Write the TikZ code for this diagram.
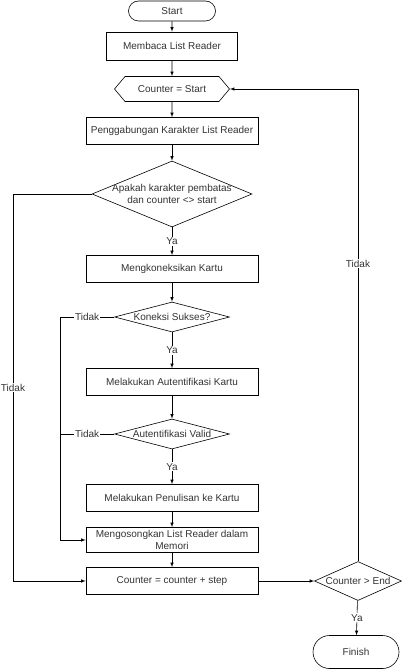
\documentclass[tikz,border=0pt]{standalone}
\usepackage{fontspec}
\setmainfont{Liberation Sans}
\usetikzlibrary{shapes}

\tikzset{
  terminal/.style={shape=rounded rectangle,draw=black,align=center,line width=0.6pt,inner sep=1pt},
  proses/.style={shape=rectangle,draw=black,align=center,line width=0.6pt,minimum width=172pt,minimum height=27pt,inner sep=1pt},
  persiapan/.style={shape=signal,signal to=west and east,signal pointer angle=100,draw=black,line width=0.6pt,minimum width=115pt,minimum height=25pt,inner sep=0pt},
  keputusan/.style={shape=diamond,draw=black,line width=0.6pt,inner sep=0pt},
  panah/.style={->,>=latex,draw=black,line width=0.6pt},
  garis/.style={-,draw=black,line width=0.6pt},
  ket/.style={fill=white,inner sep=1pt}
}

\begin{document}
\begin{tikzpicture}[x=1pt,y=-1pt,every node/.style={font=\fontsize{10}{12.5}\selectfont,text=black!80}]
\useasboundingbox (0,0) rectangle (402,671);

\node[terminal,minimum width=89pt,minimum height=20pt] (0) at (172,11) {Start};
\node[proses,minimum width=131pt,minimum height=28pt] (1) at (172,46) {Membaca List Reader};
\node[persiapan] (2) at (172,89) {Counter = Start};
\node[proses] (3) at (172,131) {Penggabungan Karakter List Reader};
\node[keputusan,minimum width=160pt,minimum height=66pt,label={[align=center]center:Apakah karakter pembatas\\dan counter <> start}] (4) at (172,194) {};
\node[proses] (5) at (172,269) {Mengkoneksikan Kartu};
\node[keputusan,minimum width=115pt,minimum height=30pt,label={center:Koneksi Sukses?}] (6) at (172,317) {};
\node[proses] (7) at (172,382) {Melakukan Autentifikasi Kartu};
\node[keputusan,minimum width=115pt,minimum height=30pt,label={center:Autentifikasi Valid}] (8) at (172,434) {};
\node[proses] (9) at (172,498) {Melakukan Penulisan ke Kartu};
\node[proses,minimum height=25pt] (10) at (172,540) {Mengosongkan List Reader dalam\\Memori};
\node[proses] (11) at (172,581) {Counter = counter + step};
\node[keputusan,minimum width=87pt,minimum height=39pt,label={center:Counter > End}] (12) at (358,581) {};
\node[terminal,minimum width=88pt,minimum height=33pt] (13) at (356,652) {Finish};

\coordinate (a) at (13,194);
\coordinate (b) at (13,581);
\coordinate (c) at (60,317);
\coordinate (d) at (60,540);
\coordinate (e) at (60,434);
\coordinate (f) at (358,89);

\path [panah] (0) edge (1);
\path [panah] (1) edge (2);
\path [panah] (2) edge (3);
\path [panah] (3) edge (4);
\path [panah] (4) edge node[ket] {Ya} (5);
\path [panah] (5) edge (6);
\path [panah] (6) edge node[ket] {Ya} (7);
\path [panah] (7) edge (8);
\path [panah] (8) edge node[ket] {Ya} (9);
\path [panah] (9) edge (10);
\path [panah] (10) edge (11);
\path [panah] (11) edge (12);
\path [panah] (12) edge node[ket] {Ya} (13);

\draw [panah] (4.west) -- (a) -- node[ket] {Tidak} (b) -- (11.west);
\draw [panah] (6.west) -- node[ket] {Tidak} (c) -- (d) -- (10.west);
\draw [garis] (8.west) -- node[ket] {Tidak} (e);
\draw [panah] (12.north) -- node[ket,pos=0.63] {Tidak} (f) -- (2.east);
\end{tikzpicture}
\end{document}
